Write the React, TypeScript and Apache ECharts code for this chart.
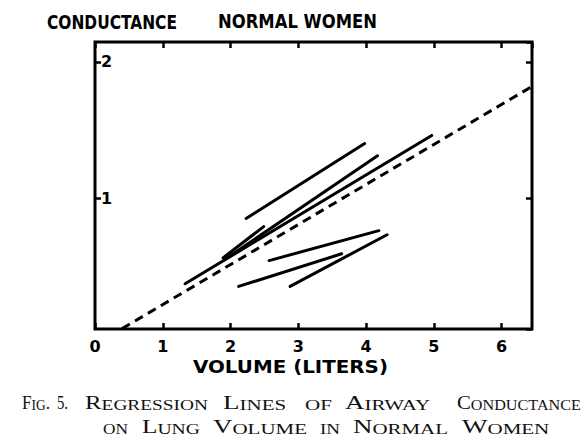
import React, { useEffect, useRef } from 'react';
import * as echarts from 'echarts';

// ---- data ----
const xTickLabels = ['0', '1', '2', '3', '4', '5', '6'];
const yTickLabels = ['', '1', '2'];

const lineA = [[2.23, 0.85], [3.98, 1.40]];
const lineB = [[1.92, 0.55], [4.17, 1.31]];
const lineC = [[1.33, 0.37], [4.97, 1.46]];
const lineD = [[1.89, 0.56], [2.49, 0.79]];
const lineE = [[2.57, 0.54], [4.19, 0.76]];
const lineF = [[2.12, 0.35], [3.64, 0.59]];
const lineG = [[2.88, 0.35], [4.31, 0.73]];
const meanLine = [[0.40, 0.04], [6.45, 1.82]];

const solidLines = [lineA, lineB, lineC, lineD, lineE, lineF, lineG];

const titleWords = ['CONDUCTANCE', 'NORMAL WOMEN'];
const xAxisTitle = 'VOLUME (LITERS)';
const captionLine1 = ['Fig.', '5.', 'Regression', 'Lines', 'of', 'Airway', 'Conductance'];
const captionLine2 = ['on', 'Lung', 'Volume', 'in', 'Normal', 'Women'];

// ---- layout ----
const titleBoxes = [[47, 130], [218, 159]];
const cap1Boxes = [[22, 28], [57, 11], [85, 123], [223, 67], [305, 28], [345, 95], [457, 124]];
const cap2Boxes = [[103, 25], [142, 58], [213, 94], [320, 20], [353, 95], [462, 103]];

const BIG = 18;
const SMALL = 14;
const SERIF = '"Liberation Serif", "DejaVu Serif", serif';
const SANS = '"DejaVu Sans", "Liberation Sans", sans-serif';

let ctx: CanvasRenderingContext2D | null = null;
function measure(text: string, font: string): number {
  if (!ctx) ctx = document.createElement('canvas').getContext('2d');
  if (!ctx) return text.length * 8;
  ctx.font = font;
  return ctx.measureText(text).width;
}

function smallCapsTokens(word: string) {
  const tokens: { cls: 'b' | 's'; text: string }[] = [];
  for (const ch of word) {
    const isLower = ch >= 'a' && ch <= 'z';
    const cls: 'b' | 's' = isLower ? 's' : 'b';
    const t = isLower ? ch.toUpperCase() : ch;
    const last = tokens[tokens.length - 1];
    if (last && last.cls === cls) last.text += t;
    else tokens.push({ cls, text: t });
  }
  return tokens;
}

function captionWord(word: string, x: number, w: number, y: number) {
  const tokens = smallCapsTokens(word);
  const text = tokens.map((t) => `{${t.cls}|${t.text}}`).join('');
  const nat = tokens.reduce(
    (acc, t) => acc + measure(t.text, `${t.cls === 'b' ? BIG : SMALL}px ${SERIF}`),
    0
  );
  const sx = nat > 0 ? Math.min(1.5, Math.max(0.7, w / nat)) : 1;
  return {
    type: 'text',
    x,
    y,
    scaleX: sx,
    silent: true,
    style: {
      text,
      fill: '#111',
      textAlign: 'left',
      textVerticalAlign: 'middle',
      rich: {
        b: { fontSize: BIG, fontFamily: SERIF, lineHeight: BIG, verticalAlign: 'bottom', fill: '#111' },
        s: { fontSize: SMALL, fontFamily: SERIF, lineHeight: BIG, verticalAlign: 'bottom', fill: '#111' },
      },
    },
  };
}

function sansText(text: string, x: number, w: number, y: number, size: number) {
  const nat = measure(text, `bold ${size}px ${SANS}`);
  const sx = nat > 0 ? w / nat : 1;
  return {
    type: 'text',
    x,
    y,
    scaleX: sx,
    silent: true,
    style: {
      text,
      fill: '#000',
      font: `bold ${size}px ${SANS}`,
      textAlign: 'left',
      textVerticalAlign: 'middle',
    },
  };
}

function makeTick() {
  return { show: true, inside: true, length: 6, lineStyle: { color: '#000', width: 2.5 } };
}

export default function App() {
  const ref = useRef<HTMLDivElement>(null);

  useEffect(() => {
    if (!ref.current) return;
    const chart = echarts.init(ref.current, null, { renderer: 'svg' });

    const graphics: any[] = [];
    titleWords.forEach((t, i) => graphics.push(sansText(t, titleBoxes[i][0], titleBoxes[i][1], 22, 19)));
    graphics.push(sansText(xAxisTitle, 193, 195, 366, 18));
    captionLine1.forEach((t, i) => graphics.push(captionWord(t, cap1Boxes[i][0], cap1Boxes[i][1], 403)));
    captionLine2.forEach((t, i) => graphics.push(captionWord(t, cap2Boxes[i][0], cap2Boxes[i][1], 427)));

    const series: any[] = solidLines.map((d, i) => ({
      type: 'line',
      name: 'line' + i,
      data: d,
      symbol: 'none',
      showSymbol: false,
      silent: true,
      lineStyle: { color: '#000', width: 3, cap: 'round' },
    }));
    series.push({
      type: 'line',
      name: 'mean',
      data: meanLine,
      symbol: 'none',
      showSymbol: false,
      silent: true,
      lineStyle: { color: '#000', width: 3, type: [9, 6] },
    });

    const yLabelFmt = (v: number) => (Number.isInteger(v) ? yTickLabels[v] ?? '' : '');
    const xLabelFmt = (v: number) => (Number.isInteger(v) ? xTickLabels[v] ?? '' : '');

    chart.setOption({
      animation: false,
      backgroundColor: '#fff',
      grid: {
        left: 95,
        right: 51,
        top: 42,
        bottom: 112,
        show: true,
        borderColor: '#000',
        borderWidth: 3,
        backgroundColor: 'transparent',
      },
      xAxis: [
        {
          type: 'value',
          position: 'bottom',
          min: 0,
          max: 6.45,
          interval: 1,
          axisLine: { show: false, onZero: false },
          axisTick: makeTick(),
          splitLine: { show: false },
          axisLabel: {
            formatter: xLabelFmt,
            color: '#000',
            fontSize: 16,
            fontWeight: 'bold',
            fontFamily: SANS,
            margin: 9,
            showMaxLabel: false,
          },
        },
        {
          type: 'value',
          position: 'top',
          min: 0,
          max: 6.45,
          interval: 1,
          axisLine: { show: false, onZero: false },
          axisTick: makeTick(),
          splitLine: { show: false },
          axisLabel: { show: false },
        },
      ],
      yAxis: [
        {
          type: 'value',
          position: 'left',
          min: 0.037,
          max: 2.147,
          splitNumber: 2,
          axisLine: { show: false, onZero: false },
          axisTick: makeTick(),
          splitLine: { show: false },
          axisLabel: {
            inside: true,
            formatter: yLabelFmt,
            color: '#000',
            fontSize: 16,
            fontWeight: 'bold',
            fontFamily: SANS,
            margin: 6,
            showMinLabel: false,
            showMaxLabel: false,
          },
        },
        {
          type: 'value',
          position: 'right',
          min: 0.037,
          max: 2.147,
          splitNumber: 2,
          axisLine: { show: false, onZero: false },
          axisTick: makeTick(),
          splitLine: { show: false },
          axisLabel: { show: false },
        },
      ],
      graphic: graphics,
      series,
    });

    return () => chart.dispose();
  }, []);

  return (
    <div
      ref={ref}
      style={{ position: 'absolute', left: 0, top: 0, width: 583, height: 441, background: '#fff' }}
    />
  );
}
